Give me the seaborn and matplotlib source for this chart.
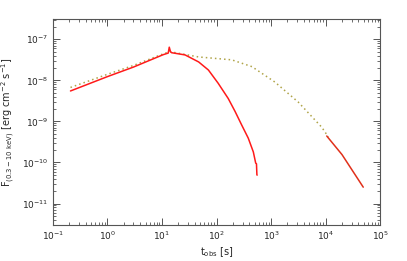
import numpy as np
import pandas as pd
import matplotlib
matplotlib.use("Agg")
import matplotlib.pyplot as plt
import seaborn as sns
from matplotlib.ticker import LogLocator, NullFormatter

# red curve (prompt + early decay)
t_red = [0.21, 1.0, 3.0, 10.5, 13.0, 13.6, 14.3, 15.0, 26.5, 47, 71, 107, 164, 219, 290, 382, 473, 523, 540, 550, 555]
f_red = [5.5e-9, 1.23e-8, 2.1e-8, 4.2e-8, 4.6e-8, 6.4e-8, 5.0e-8, 4.7e-8, 4.15e-8, 2.8e-8, 1.78e-8, 8.5e-9, 3.6e-9, 1.74e-9, 8.1e-10, 3.9e-10, 1.8e-10, 9.6e-11, 9.3e-11, 5.0e-11, 4.9e-11]

# dotted model curve
t_dot = [0.21, 1.0, 3.0, 10.5, 14.0, 15.0, 47, 190, 446, 1170, 3150, 8500, 11200]
f_dot = [6.7e-9, 1.4e-8, 2.3e-8, 4.4e-8, 5.0e-8, 4.9e-8, 3.7e-8, 3.15e-8, 2.15e-8, 9.1e-9, 2.95e-9, 7.2e-10, 4.2e-10]

# late red segment
t_late = [10500, 20000, 49000]
f_late = [4.4e-10, 1.55e-10, 2.5e-11]

sns.set_style("ticks")
plt.rcParams['font.family'] = ['DejaVu Sans']

fig = plt.figure(figsize=(4.07, 2.61), dpi=100)
ax = fig.add_axes([0.130, 0.138, 0.804, 0.789])

sns.lineplot(x=t_dot, y=f_dot, ax=ax, color="#b0a448", linestyle=(0, (1, 2)), linewidth=1.1, sort=False)
sns.lineplot(x=t_red, y=f_red, ax=ax, color="#ff1a1a", linewidth=1.1, sort=False)
sns.lineplot(x=t_late, y=f_late, ax=ax, color="#e0301a", linewidth=1.1, sort=False)

ax.set_xscale("log")
ax.set_yscale("log")
ax.set_xlim(1e-1, 1e5)
ax.set_ylim(3.0e-12, 3.1e-7)

ax.set_xticks([1e-1, 1e0, 1e1, 1e2, 1e3, 1e4, 1e5])
ax.set_yticks([1e-11, 1e-10, 1e-9, 1e-8, 1e-7])
ax.xaxis.set_minor_locator(LogLocator(base=10, subs=np.arange(2, 10), numticks=20))
ax.yaxis.set_minor_locator(LogLocator(base=10, subs=np.arange(2, 10), numticks=20))
ax.xaxis.set_minor_formatter(NullFormatter())
ax.yaxis.set_minor_formatter(NullFormatter())

ax.tick_params(which="both", direction="in", top=True, right=True, labelsize=6.5, color="#555555")
ax.tick_params(which="major", length=5, width=0.7)
ax.tick_params(which="minor", length=2.5, width=0.6)
for s in ax.spines.values():
    s.set_color("#555555")
    s.set_linewidth(0.8)

ax.set_xlabel(r"t$_{\rm obs}$ [s]", fontsize=7, labelpad=2)
ax.set_ylabel(r"F$_{(0.3-10\ {\rm keV})}$ [erg cm$^{-2}$ s$^{-1}$]", fontsize=7, labelpad=3)

fig.savefig("out.png", dpi=100)
